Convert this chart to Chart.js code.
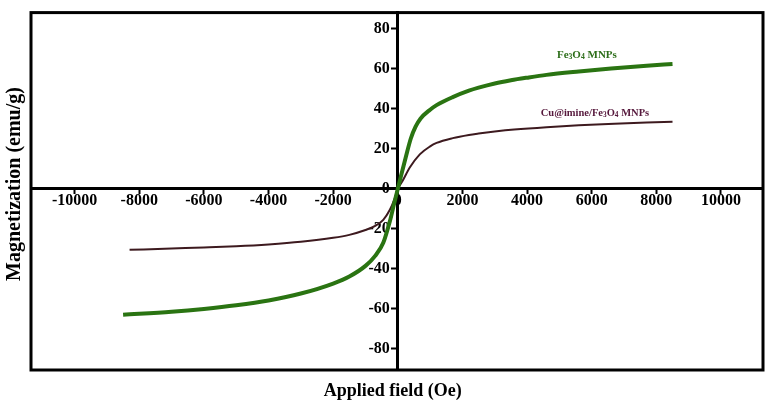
<!DOCTYPE html>
<html>
<head>
<meta charset="utf-8">
<script src="https://cdn.jsdelivr.net/npm/chart.js@4.4.0/dist/chart.umd.min.js"></script>
<style>
  html, body { margin: 0; padding: 0; background: #fff; }
</style>
</head>
<body>
<canvas id="canvas" width="767" height="404"></canvas>
<script>
// values: field in Oe, magnetization in emu/g
const fieldFe = [-8500, -7000, -6000, -5000, -4000, -3000, -2000, -1500, -1000, -700, -450, -250, -100, 0,
  100, 250, 400, 550, 700, 1000, 1200, 1700, 2200, 2500, 3000, 3500, 4000, 4600, 5600, 6600, 7700, 8500]
const magFe = [-62.9, -61.4, -60, -58.2, -55.8, -52.3, -47.3, -43.8, -38.5, -33.5, -27, -16.5, -6.5, 0,
  6.5, 16, 25, 31, 35, 39.5, 41.8, 45.8, 49, 50.5, 52.6, 54.2, 55.5, 56.9, 58.6, 60.1, 61.5, 62.3]

const fieldCu = [-8300, -7000, -6000, -5000, -4000, -3000, -2000, -1500, -1000, -700, -450, -250, -100, 0,
  150, 370, 680, 1000, 1200, 1700, 2200, 2500, 3000, 3600, 4600, 5600, 6700, 7700, 8500]
const magCu = [-30.5, -29.8, -29.3, -28.7, -27.8, -26.5, -24.5, -23, -20.6, -18.5, -15.5, -10.6, -5, 0,
  4, 10.6, 17.2, 21.2, 22.9, 25.3, 26.9, 27.6, 28.6, 29.6, 30.8, 31.7, 32.5, 33.1, 33.5]

const xTicks = [-10000, -8000, -6000, -4000, -2000, 0, 2000, 4000, 6000, 8000, 10000]
const yTicks = [-80, -60, -40, -20, 0, 20, 40, 60, 80]

const xTitle = 'Applied field (Oe)'
const yTitle = 'Magnetization (emu/g)'

function el(sel) {
    return document.querySelector(sel)
}

function pairs(xs, ys) {
    return xs.map((x, i) => ({x: x, y: ys[i]}))
}

const serif = '"Liberation Serif", "Times New Roman", serif'

// text with subscript pieces: [text, isSub]
function richText(ctx, parts, cx, cy, size, color) {
    ctx.fillStyle = color
    ctx.textBaseline = 'alphabetic'
    ctx.textAlign = 'left'
    let total = 0
    parts.forEach(p => {
        ctx.font = 'bold ' + (p[1] ? size * 0.7 : size) + 'px ' + serif
        total += ctx.measureText(p[0]).width
    })
    let x = cx - total / 2
    parts.forEach(p => {
        ctx.font = 'bold ' + (p[1] ? size * 0.7 : size) + 'px ' + serif
        ctx.fillText(p[0], x, cy + (p[1] ? 1.5 : 0))
        x += ctx.measureText(p[0]).width
    })
}

const decor = {
    id: 'decor',
    afterDraw(chart) {
        const ctx = chart.ctx
        const a = chart.chartArea
        const sx = chart.scales.x, sy = chart.scales.y
        ctx.save()
        ctx.lineWidth = 3
        ctx.strokeStyle = '#000'
        ctx.strokeRect(a.left, a.top, a.right - a.left, a.bottom - a.top)

        ctx.fillStyle = '#000'
        ctx.textAlign = 'center'
        ctx.textBaseline = 'middle'
        ctx.font = 'bold 18px ' + serif
        ctx.fillText(xTitle, sx.getPixelForValue(0) - 5, 391)

        ctx.translate(15, 184)
        ctx.rotate(-Math.PI / 2)
        ctx.font = 'bold 20px ' + serif
        ctx.fillText(yTitle, 0, 0)
        ctx.restore()

        ctx.save()
        richText(ctx, [['Fe', 0], ['3', 1], ['O', 0], ['4', 1], [' MNPs', 0]],
            sx.getPixelForValue(5850), sy.getPixelForValue(65.5), 11, '#2d6e1a')
        richText(ctx, [['Cu@imine/Fe', 0], ['3', 1], ['O', 0], ['4', 1], [' MNPs', 0]],
            sx.getPixelForValue(6100), sy.getPixelForValue(36.4), 10.5, '#56183c')
        ctx.restore()
    }
}

const tickFont = {family: serif, size: 16, weight: 'bold'}

new Chart(el('#canvas').getContext('2d'), {
    type: 'scatter',
    data: {
        datasets: [{
            label: 'Fe3O4 MNPs',
            data: pairs(fieldFe, magFe),
            showLine: true,
            borderColor: '#2a7412',
            borderWidth: 4,
            pointRadius: 0,
            cubicInterpolationMode: 'monotone'
        }, {
            label: 'Cu@imine/Fe3O4 MNPs',
            data: pairs(fieldCu, magCu),
            showLine: true,
            borderColor: '#3d1a1f',
            borderWidth: 2,
            pointRadius: 0,
            cubicInterpolationMode: 'monotone'
        }]
    },
    options: {
        responsive: false,
        animation: false,
        layout: {padding: {left: 31, top: 3, right: 4, bottom: 34}},
        plugins: {legend: {display: false}, tooltip: {enabled: false}},
        scales: {
            x: {
                type: 'linear',
                min: -11350,
                max: 11300,
                position: {y: 0},
                afterFit: s => { s.height = 0 },
                afterBuildTicks: s => { s.ticks = xTicks.map(v => ({value: v})) },
                grid: {drawOnChartArea: false, tickLength: 4, tickWidth: 2, tickColor: '#000'},
                border: {color: '#000', width: 3},
                ticks: {color: '#000', font: tickFont, padding: -2, maxRotation: 0, autoSkip: false,
                    callback: v => String(v)}
            },
            y: {
                type: 'linear',
                min: -90.5,
                max: 88,
                position: {x: 0},
                afterFit: s => { s.width = 0 },
                afterBuildTicks: s => { s.ticks = yTicks.map(v => ({value: v})) },
                grid: {drawOnChartArea: false, tickLength: 5, tickWidth: 2, tickColor: '#000'},
                border: {color: '#000', width: 3},
                // centred axis puts labels right on the line, trailing spaces push them left
                ticks: {color: '#000', font: tickFont, autoSkip: false,
                    callback: v => v + '  '}
            }
        }
    },
    plugins: [decor]
})
</script>
</body>
</html>
